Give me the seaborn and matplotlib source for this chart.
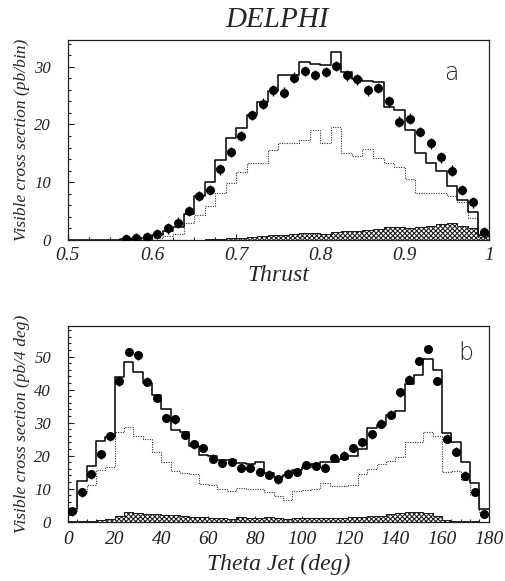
import seaborn as sns
import matplotlib.pyplot as plt
import numpy as np
import pandas as pd
from matplotlib.ticker import MultipleLocator
from matplotlib.transforms import ScaledTranslation

# ---- data ----
# (a) thrust, 40 bins of 0.0125 between 0.5 and 1.0
thrust_range = (0.5, 1.0)
thrust_first_point_bin = 5
thrust_data = [0.2, 0.3, 0.5, 1.0, 2.0, 3.0, 5.0, 7.6, 8.6, 12.2,
               15.2, 18.0, 21.6, 23.6, 25.9, 25.5, 28.1, 29.3, 28.6, 29.1,
               30.1, 28.5, 27.8, 25.9, 26.3, 24.0, 20.5, 21.0, 18.7, 16.7,
               14.3, 12.0, 8.6, 6.5, 1.3]
thrust_total = [0, 0, 0, 0, 0, 0.1, 0.2, 0.4, 0.8, 1.6,
                2.3, 4.5, 7.6, 10.0, 13.9, 17.6, 19.3, 21.7, 23.9, 25.8,
                28.6, 28.6, 30.8, 30.5, 30.3, 32.6, 29.0, 27.8, 27.6, 27.4,
                23.1, 22.5, 19.1, 15.1, 13.4, 11.9, 9.4, 7.0, 4.9, 0.8]
thrust_dotted = [0, 0, 0, 0, 0, 0.05, 0.1, 0.2, 0.3, 0.6,
                 1.0, 3.0, 4.3, 5.9, 8.2, 9.9, 11.7, 13.3, 13.3, 15.5,
                 16.8, 16.8, 17.3, 19.0, 16.8, 19.6, 15.0, 14.6, 15.7, 14.2,
                 13.3, 12.7, 10.6, 8.2, 8.2, 8.2, 7.6, 6.5, 3.8, 0.5]
thrust_hatched = [0, 0, 0, 0, 0, 0, 0, 0, 0, 0,
                  0, 0, 0.05, 0.1, 0.2, 0.3, 0.4, 0.5, 0.6, 0.8,
                  0.9, 1.0, 1.2, 1.2, 1.1, 1.4, 1.5, 1.6, 1.8, 1.9,
                  2.2, 2.2, 2.1, 2.3, 2.4, 2.8, 2.9, 2.5, 2.0, 0.8]

# (b) theta jet, 45 bins of 4 deg
theta_range = (0, 180)
theta_data = [3.1, 8.8, 14.3, 20.4, 25.8, 42.5, 51.4, 50.4, 42.4, 37.4,
              31.4, 31.0, 26.2, 23.4, 22.3, 19.1, 17.8, 18.0, 16.2, 16.2,
              15.0, 14.2, 12.8, 14.5, 15.0, 17.2, 16.8, 16.3, 19.2, 20.0,
              22.3, 24.0, 26.4, 29.7, 32.4, 39.2, 43.0, 48.7, 52.3, 42.6,
              25.1, 21.2, 13.9, 8.9, 2.3]
theta_total = [3.8, 12.3, 16.7, 24.3, 25.5, 43.8, 48.5, 45.4, 42.0, 38.5,
               34.0, 27.7, 27.0, 23.0, 20.2, 20.0, 18.8, 18.6, 17.6, 17.5,
               18.0, 14.8, 13.6, 14.0, 15.5, 16.5, 17.5, 18.0, 18.0, 19.0,
               20.0, 22.0, 28.3, 29.3, 32.4, 33.6, 41.8, 44.3, 49.2, 46.0,
               26.8, 24.2, 18.2, 11.6, 3.8]
theta_dotted = [3.0, 8.5, 11.0, 15.5, 16.5, 27.3, 28.7, 26.0, 25.0, 21.2,
                18.2, 15.2, 14.8, 14.5, 11.3, 11.0, 9.8, 9.3, 10.3, 10.0,
                9.8, 8.8, 7.8, 6.5, 9.3, 9.5, 9.8, 11.6, 10.8, 10.8,
                11.0, 14.3, 15.8, 17.3, 18.5, 19.5, 24.0, 24.0, 27.0, 26.0,
                15.0, 15.2, 12.5, 7.9, 2.8]
theta_hatched = [0.1, 0.2, 0.3, 0.5, 0.8, 1.8, 3.0, 2.6, 2.4, 2.2,
                 2.0, 1.9, 1.6, 1.4, 1.3, 1.2, 1.0, 0.9, 1.3, 1.2,
                 1.0, 1.3, 1.0, 0.9, 1.1, 1.1, 1.0, 1.2, 1.0, 1.1,
                 1.3, 1.3, 1.6, 1.8, 2.3, 2.5, 3.0, 3.0, 2.6, 1.8,
                 0.5, 0.3, 0.2, 0.1, 0.0]

# ---- styling ----
sns.set_style("ticks")
plt.rcParams["font.family"] = ["Liberation Serif", "DejaVu Serif"]
plt.rcParams["font.style"] = "italic"
plt.rcParams["xtick.direction"] = "in"
plt.rcParams["ytick.direction"] = "in"
plt.rcParams["hatch.linewidth"] = 0.75

fig = plt.figure(figsize=(5.06, 5.81), dpi=100)
ax1 = fig.add_axes([0.134, 0.587, 0.832, 0.344])
ax2 = fig.add_axes([0.134, 0.1024, 0.832, 0.3365])


def draw_panel(ax, xrange, total, dotted, hatched, data, first_bin, yerr):
    nb = len(total)
    edges = np.linspace(xrange[0], xrange[1], nb + 1)
    centers = (edges[:-1] + edges[1:]) / 2
    df = pd.DataFrame({"x": centers, "total": total,
                       "dotted": dotted, "hatched": hatched})
    hist_kws = dict(data=df, x="x", bins=nb, binrange=xrange,
                    element="step", ax=ax)
    # hatched background
    sns.histplot(weights="hatched", fill=True, color="white", alpha=1,
                 linewidth=0.7, **hist_kws)
    coll = ax.collections[-1]
    coll.set_hatch("xxxxxxx")
    coll.set_edgecolor("#1a1a1a")
    coll.set_facecolor("white")
    # dotted component
    sns.histplot(weights="dotted", fill=False, color="#333333",
                 linestyle=(0, (1, 1.2)), linewidth=0.8, **hist_kws)
    # total expectation
    sns.histplot(weights="total", fill=False, color="black",
                 linewidth=1.1, **hist_kws)
    # data points
    xs = centers[first_bin:first_bin + len(data)]
    ax.errorbar(xs, data, yerr=yerr, fmt="o", color="black", ms=5.5,
                elinewidth=1.0, capsize=0, zorder=5)
    ax.set_ylabel("")
    ax.set_xlabel("")
    for s in ax.spines.values():
        s.set_linewidth(0.9)
        s.set_color("#222222")
    ax.tick_params(which="both", top=False, right=False, length=4,
                   width=0.8, colors="#222222")
    ax.tick_params(which="minor", length=2.5)
    ax.tick_params(axis="x", labelsize=14, pad=5)
    ax.tick_params(axis="y", labelsize=12, pad=12)


draw_panel(ax1, thrust_range, thrust_total, thrust_dotted, thrust_hatched,
           thrust_data, thrust_first_point_bin, 0.9)
draw_panel(ax2, theta_range, theta_total, theta_dotted, theta_hatched,
           theta_data, 0, 1.3)

# axis (a)
ax1.set_xlim(0.5, 1.0)
ax1.set_ylim(0, 34.6)
ax1.xaxis.set_minor_locator(MultipleLocator(0.025))
ax1.yaxis.set_major_locator(MultipleLocator(10))
ax1.yaxis.set_minor_locator(MultipleLocator(2))
ax1.set_xticks([0.5, 0.6, 0.7, 0.8, 0.9, 1.0],
               ["0.5", "0.6", "0.7", "0.8", "0.9", "1"])
ax1.set_xlabel("Thrust", fontsize=17, labelpad=1)
ax1.set_ylabel("Visible cross section (pb/bin)", fontsize=12.5, labelpad=3)
ax1.text(0.912, 0.835, "a", transform=ax1.transAxes, fontsize=17,
         ha="center", va="center", family="DejaVu Sans", style="normal",
         fontweight="light")

# axis (b)
ax2.set_xlim(0, 180)
ax2.set_ylim(0, 59.3)
ax2.xaxis.set_major_locator(MultipleLocator(20))
ax2.xaxis.set_minor_locator(MultipleLocator(4))
ax2.yaxis.set_major_locator(MultipleLocator(10))
ax2.yaxis.set_minor_locator(MultipleLocator(2))
ax2.tick_params(axis="x", pad=7)
ax2.set_xlabel("Theta Jet (deg)", fontsize=17, labelpad=4)
ax2.set_ylabel("Visible cross section (pb/4 deg)", fontsize=12.5, labelpad=3)
ax2.text(0.945, 0.86, "b", transform=ax2.transAxes, fontsize=17,
         ha="center", va="center", family="DejaVu Sans", style="normal",
         fontweight="light")

# the "0" at the corner sits a bit higher than the others
fig.canvas.draw()
for ax in (ax1, ax2):
    lab = ax.get_yticklabels()[0]
    lab.set_transform(lab.get_transform() +
                      ScaledTranslation(0, 2 / 72, fig.dpi_scale_trans))

fig.text(0.548, 0.966, "DELPHI", ha="center", va="center", fontsize=21)

plt.savefig("out.png", dpi=100)
plt.close()
